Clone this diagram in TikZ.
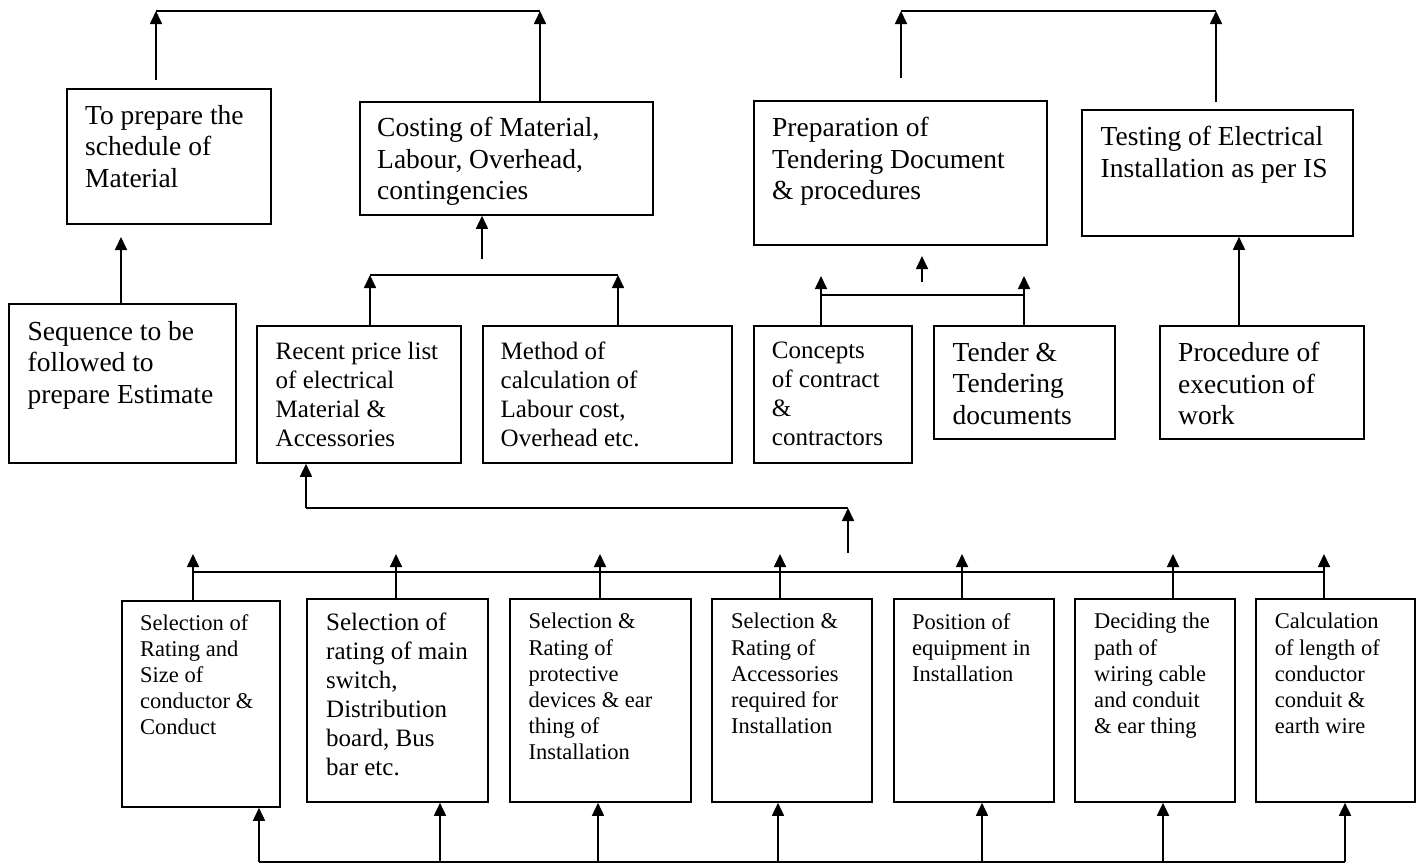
\documentclass[tikz,border=0pt]{standalone}
\usepackage{fontspec}
\setmainfont{Liberation Serif}
\usetikzlibrary{arrows.meta}
\newcommand\fbig{\fontsize{27.5}{31.6}\selectfont}
\newcommand\fmed{\fontsize{25}{29}\selectfont}
\newcommand\fsml{\fontsize{22.5}{26.2}\selectfont}
\begin{document}
\begin{tikzpicture}[x=1pt,y=-1pt,
  box/.style={draw, line width=1.8pt, inner sep=0pt, anchor=north west},
  txt/.style={anchor=north west, inner sep=0pt, align=left},
  arr/.style={line width=1.7pt, -{Triangle[length=13pt,width=12pt]}},
  ln/.style={line width=1.7pt}]
\useasboundingbox (0,0) rectangle (1416,863);

% ---------- boxes ----------
\node[box, minimum width=204pt, minimum height=135pt] (prep) at (66,88) {};
\node[box, minimum width=293pt, minimum height=113pt] (cost) at (359,101) {};
\node[box, minimum width=293pt, minimum height=144pt] (tend) at (753,100) {};
\node[box, minimum width=271pt, minimum height=126pt] (test) at (1081,109) {};
\node[box, minimum width=227pt, minimum height=159pt] (seq)  at (8,303) {};
\node[box, minimum width=204pt, minimum height=137pt] (rec)  at (256,325) {};
\node[box, minimum width=249pt, minimum height=137pt] (meth) at (482,325) {};
\node[box, minimum width=158pt, minimum height=137pt] (conc) at (753,325) {};
\node[box, minimum width=181pt, minimum height=113pt] (tdoc) at (933,325) {};
\node[box, minimum width=204pt, minimum height=113pt] (proc) at (1159,325) {};
\node[box, minimum width=158pt, minimum height=206pt] (s1) at (121,600) {};
\node[box, minimum width=181pt, minimum height=203pt] (s2) at (306,598) {};
\node[box, minimum width=181pt, minimum height=203pt] (s3) at (509,598) {};
\node[box, minimum width=160pt, minimum height=203pt] (s4) at (711,598) {};
\node[box, minimum width=160pt, minimum height=203pt] (s5) at (893,598) {};
\node[box, minimum width=160pt, minimum height=203pt] (s6) at (1074,598) {};
\node[box, minimum width=159pt, minimum height=203pt] (s7) at (1255,598) {};

% ---------- texts ----------
\node[txt, font=\fbig] (prept) at (85,105) {To prepare the\\schedule of\\Material};
\node[txt, font=\fbig] (costt) at (377,117) {Costing of Material,\\Labour, Overhead,\\contingencies};
\node[txt, font=\fbig] (tendt) at (772,117) {Preparation of\\Tendering Document\\\& procedures};
\node[txt, font=\fbig] (testt) at (1100.5,126) {Testing of Electrical\\Installation as per IS};
\node[txt, font=\fbig] (seqt) at (27.5,321) {Sequence to be\\followed to\\prepare Estimate};
\node[txt, font=\fmed] (rect) at (275.5,342) {Recent price list\\of electrical\\Material \&\\Accessories};
\node[txt, font=\fmed] (metht) at (500.5,342) {Method of\\calculation of\\Labour cost,\\Overhead etc.};
\node[txt, font=\fmed] (conct) at (771.7,342) {Concepts\\of contract\\\&\\contractors};
\node[txt, font=\fbig] (tdoct) at (952.5,342) {Tender \&\\Tendering\\documents};
\node[txt, font=\fbig] (proct) at (1178,342) {Procedure of\\execution of\\work};
\node[txt, font=\fsml] (s1t) at (140,614) {Selection of\\Rating and\\Size of\\conductor \&\\Conduct};
\node[txt, font=\fmed] (s2t) at (326,613) {Selection of\\rating of main\\switch,\\Distribution\\board, Bus\\bar etc.};
\node[txt, font=\fsml] (s3t) at (528.5,613) {Selection \&\\Rating of\\protective\\devices \& ear\\thing of\\Installation};
\node[txt, font=\fsml] (s4t) at (731,613) {Selection \&\\Rating of\\Accessories\\required for\\Installation};
\node[txt, font=\fsml] (s5t) at (912,613) {Position of\\equipment in\\Installation};
\node[txt, font=\fsml] (s6t) at (1094,613) {Deciding the\\path of\\wiring cable\\and conduit\\\& ear thing};
\node[txt, font=\fsml] (s7t) at (1274.6,613) {Calculation\\of length of\\conductor\\conduit \&\\earth wire};

% ---------- top left connectors ----------
\coordinate (tl1) at (156,11);
\coordinate (tl2) at (540,11);
\coordinate (tlf) at (156,80);
\draw[arr] (tlf) -- (tl1);
\draw[ln] (tl1) -- (tl2);
\draw[arr] (cost.north -| tl2) -- (tl2);

% ---------- top right connectors ----------
\coordinate (tr1) at (901,11);
\coordinate (tr2) at (1216,11);
\coordinate (trf1) at (901,78);
\coordinate (trf2) at (1216,102);
\draw[arr] (trf1) -- (tr1);
\draw[ln] (tr1) -- (tr2);
\draw[arr] (trf2) -- (tr2);

% ---------- costing inputs ----------
\coordinate (cf) at (482,259);
\draw[arr] (cf) -- (cost.south -| cf);
\coordinate (b1) at (370,275);
\coordinate (b2) at (618,275);
\draw[arr] (rec.north -| b1) -- (b1);
\draw[arr] (meth.north -| b2) -- (b2);
\draw[ln] (b1) -- (b2);

% ---------- sequence -> schedule ----------
\coordinate (sq) at (121,237);
\draw[arr] (seq.north -| sq) -- (sq);

% ---------- tendering inputs ----------
\coordinate (pf1) at (922,282);
\coordinate (pf2) at (922,256);
\draw[arr] (pf1) -- (pf2);
\coordinate (k1) at (821,276);
\coordinate (k2) at (1024,276);
\coordinate (k1b) at (821,295);
\coordinate (k2b) at (1024,295);
\draw[arr] (conc.north -| k1) -- (k1);
\draw[arr] (tdoc.north -| k2) -- (k2);
\draw[ln] (k1b) -- (k2b);

% ---------- procedure -> testing ----------
\coordinate (tx) at (1239,300);
\draw[arr] (proc.north -| tx) -- (test.south -| tx);

% ---------- middle link ----------
\coordinate (m1) at (306,508);
\coordinate (m2) at (848,508);
\coordinate (m3) at (848,553);
\draw[arr] (m1) -- (rec.south -| m1);
\draw[ln] (m1) -- (m2);
\draw[arr] (m3) -- (m2);

% ---------- upper bracket of bottom row ----------
\coordinate (ua) at (193,572);
\coordinate (ub) at (1324,572);
\draw[ln] (ua) -- (ub);
\foreach \b/\x in {s1/193, s2/396, s3/600, s4/780, s5/962, s6/1173, s7/1324}{
  \coordinate (u-\b) at (\x,554);
  \draw[arr] (\b.north -| u-\b) -- (u-\b);
}

% ---------- lower bracket of bottom row ----------
\coordinate (da) at (259,862);
\coordinate (db) at (1345,862);
\draw[ln] (da) -- (db);
\foreach \b/\x in {s1/259, s2/440, s3/598, s4/778, s5/982, s6/1163, s7/1345}{
  \coordinate (d-\b) at (\x,862);
  \draw[arr] (d-\b) -- (\b.south -| d-\b);
}
\end{tikzpicture}
\end{document}
